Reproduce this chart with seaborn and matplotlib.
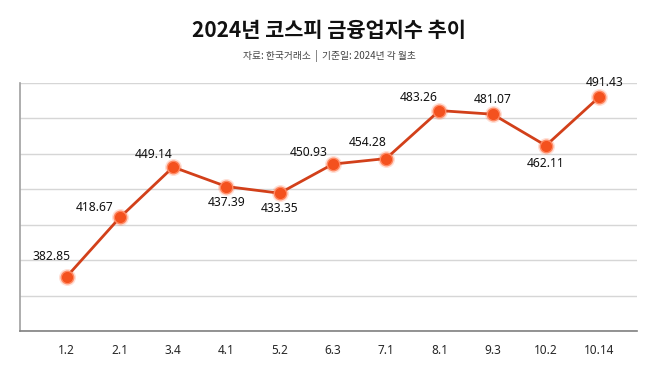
import numpy as np
import pandas as pd
import matplotlib
matplotlib.use("Agg")
import matplotlib.pyplot as plt
import seaborn as sns

# 데이터
dates = ["1.2", "2.1", "3.4", "4.1", "5.2", "6.3", "7.1", "8.1", "9.3", "10.2", "10.14"]
index_values = [382.85, 418.67, 449.14, 437.39, 433.35, 450.93, 454.28, 483.26, 481.07, 462.11, 491.43]

# 라벨 위치 (픽셀 오프셋)
label_offsets = [(-15, 20), (-25, 10), (-19, 13), (0, -16), (0, -15), (-24, 12),
                 (-18, 16), (-21, 13), (0, 15), (0, -18), (5, 15)]

df = pd.DataFrame({"date": dates, "value": index_values})
df["pos"] = np.arange(len(df))

sns.set_style("white")
plt.rcParams["font.family"] = ["Noto Sans CJK KR", "DejaVu Sans"]

fig = plt.figure(figsize=(6.58, 3.70), dpi=100)
ax = fig.add_axes([0.030, 0.105, 0.938, 0.671])

# 글로우 효과
ax.scatter(df["pos"], df["value"], s=150, color="#ff7043", alpha=0.22, zorder=3, linewidths=0)
sns.lineplot(data=df, x="pos", y="value", ax=ax, color="#d2401a", linewidth=2,
             marker="o", markersize=9, markerfacecolor="#f4511e",
             markeredgecolor="#ff8a65", markeredgewidth=1.0, zorder=4)

for x, y, (dx, dy) in zip(df["pos"], df["value"], label_offsets):
    ax.annotate(f"{y:.2f}", (x, y), xytext=(dx, dy), textcoords="offset pixels",
                ha="center", va="center", fontsize=8.7, color="#111111",
                family=["Noto Sans", "DejaVu Sans"])

ax.set_ylim(350, 500)
ax.set_yticks(np.linspace(350, 500, 8))
ax.set_yticklabels([])
ax.tick_params(axis="y", length=0)
ax.set_xlim(-0.88, 10.71)
ax.set_xticks(df["pos"])
ax.set_xticklabels(dates, fontsize=8.5, family=["Noto Sans", "DejaVu Sans"])
ax.tick_params(axis="x", length=0, pad=9)
ax.set_xlabel("")
ax.set_ylabel("")
ax.grid(axis="y", color="#d6d6d6", linewidth=1)
ax.set_axisbelow(True)

for side in ["top", "right"]:
    ax.spines[side].set_visible(False)
ax.spines["left"].set_color("#a0a0a0")
ax.spines["left"].set_linewidth(1.2)
ax.spines["bottom"].set_color("#808080")
ax.spines["bottom"].set_linewidth(1.2)

fig.text(0.5, 0.918, "2024년 코스피 금융업지수 추이", ha="center", va="center",
         fontsize=15, fontweight="black", color="#111111")
fig.text(0.5, 0.848, "자료: 한국거래소  |  기준일: 2024년 각 월초", ha="center", va="center",
         fontsize=7, color="#444444")

fig.savefig("out.png", dpi=100)
